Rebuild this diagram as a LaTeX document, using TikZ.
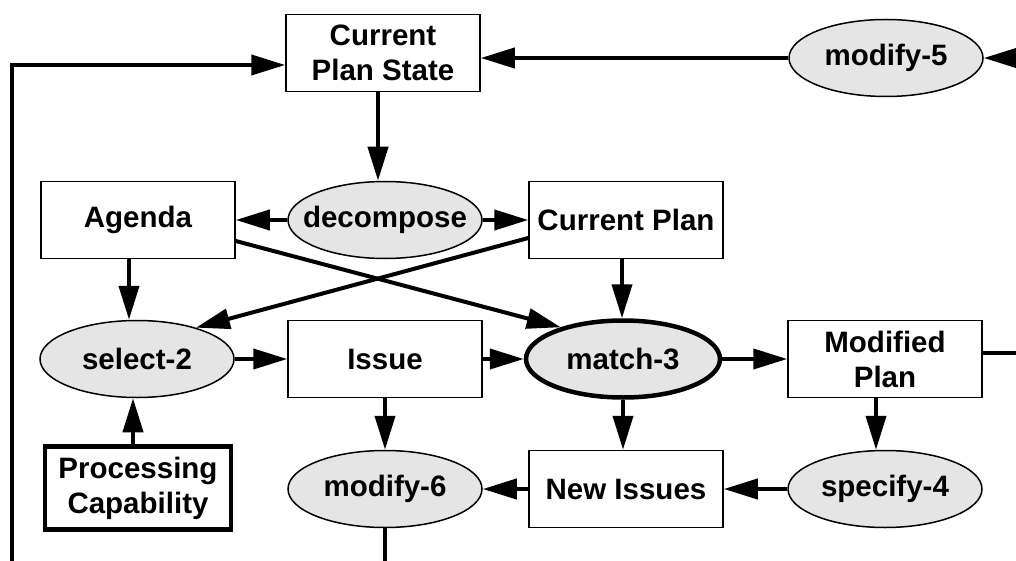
\documentclass[tikz,border=0pt]{standalone}
\usepackage{fontspec}
\setmainfont{Liberation Sans}
\usetikzlibrary{arrows.meta,shapes.geometric}

\begin{document}
\begin{tikzpicture}[x=1pt,y=-1pt,
  every node/.style={font=\bfseries\fontsize{29.5}{35}\selectfont, align=center},
  box/.style={draw, line width=1.5pt, inner sep=0pt, minimum width=194pt, minimum height=77pt},
  oval/.style={draw, ellipse, fill=black!10, line width=1.5pt, inner xsep=-40pt, inner ysep=-20pt, minimum width=194pt, minimum height=77pt},
  heavy/.style={line width=4.5pt},
  link/.style={line width=4pt, -{Triangle[length=34pt,width=20pt]}},
  wire/.style={line width=4pt}]
\useasboundingbox (0,0) rectangle (1016,561);
% nodes
\node[box] (cps) at (383,53) {Current\\Plan State};
\node[oval] (m5) at (886,58) {modify-5};
\node[box] (agenda) at (138,220) {Agenda};
\node[oval] (dec) at (385,220) {decompose};
\node[box] (cp) at (626,220) {Current Plan};
\node[oval] (s2) at (137,359) {select-2};
\node[box] (issue) at (385,359) {Issue};
\node[oval,heavy] (m3) at (623,359) {match-3};
\node[box] (mp) at (885,359) {Modified\\Plan};
\node[box,heavy,minimum width=186pt,minimum height=83pt] (pc) at (138,488) {Processing\\Capability};
\node[oval] (m6) at (385,489) {modify-6};
\node[box] (ni) at (626,489) {New Issues};
\node[oval] (s4) at (885,489) {specify-4};
% free ends
\coordinate (fbbot) at (12,561);
\coordinate (fbtop) at (12,65);
\coordinate (edgeR) at (1016,58);
% connectors
\draw[link] (fbbot) -- (fbtop) -- (fbtop -| cps.west);
\draw[link] (m5.west) -- (m5.west -| cps.east);
\draw[link] (edgeR) -- (m5.east);
\draw[link] ([xshift=-5pt]cps.south) -- ([xshift=-5pt]cps.south |- dec.north);
\draw[link] (dec.west) -- (agenda.east);
\draw[link] (dec.east) -- (cp.west);
\draw[link] ([xshift=-9pt]agenda.south) -- ([xshift=-9pt]agenda.south |- s2.north);
\draw[link] ([yshift=-21pt]agenda.east) -- (m3.153);
\draw[link] ([yshift=-18pt]cp.west) -- (s2.28);
\draw[link] ([xshift=-4pt]cp.south) -- ([xshift=-4pt]cp.south |- m3.north);
\draw[link] (s2.east) -- (issue.west);
\draw[link] (issue.east) -- (m3.west);
\draw[link] (m3.east) -- (mp.west);
\draw[wire] ([yshift=6pt]mp.east) -- ([yshift=6pt]mp.east -| edgeR);
\draw[link] (issue.south) -- (m6.north);
\draw[link] (m3.south) -- (m3.south |- ni.north);
\draw[link] ([xshift=-9pt]mp.south) -- ([xshift=-9pt]mp.south |- s4.north);
\draw[link] ([xshift=-5pt]pc.north) -- ([xshift=-5pt]pc.north |- s2.south);
\draw[link] (s4.west) -- (ni.east);
\draw[link] (ni.west) -- (m6.east);
\draw[wire] (m6.south) -- (m6.south |- fbbot);
\end{tikzpicture}
\end{document}
